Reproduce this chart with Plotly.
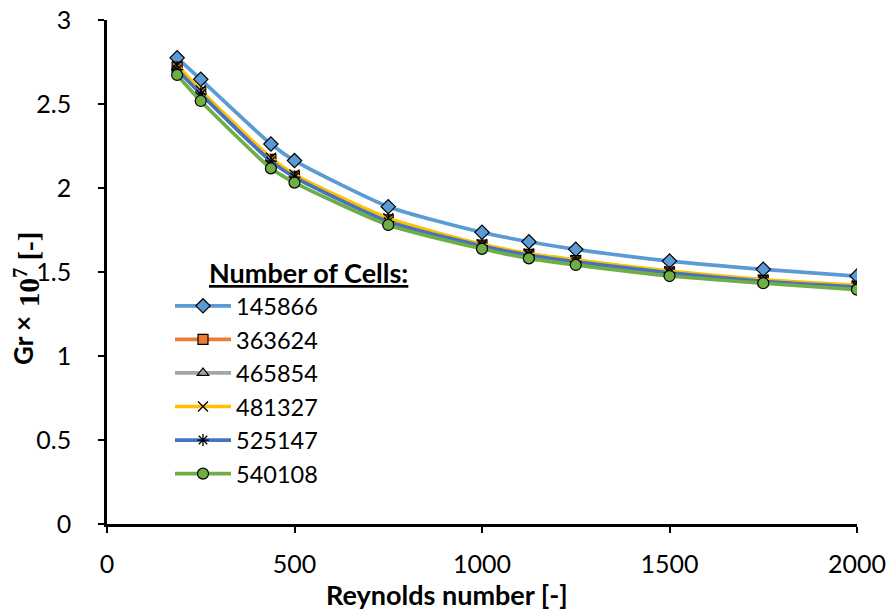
import plotly.graph_objects as go

reynolds = [187, 250, 437, 500, 750, 1000, 1125, 1250, 1500, 1750, 2000]

series_names = ["145866", "363624", "465854", "481327", "525147", "540108"]
gr_145866 = [2.775, 2.647, 2.262, 2.163, 1.889, 1.736, 1.680, 1.635, 1.565, 1.516, 1.476]
gr_363624 = [2.720, 2.570, 2.170, 2.070, 1.810, 1.660, 1.605, 1.568, 1.500, 1.450, 1.415]
gr_465854 = [2.718, 2.565, 2.168, 2.068, 1.808, 1.658, 1.603, 1.566, 1.498, 1.448, 1.414]
gr_481327 = [2.730, 2.580, 2.180, 2.080, 1.820, 1.665, 1.610, 1.572, 1.505, 1.455, 1.420]
gr_525147 = [2.705, 2.560, 2.160, 2.065, 1.800, 1.655, 1.600, 1.560, 1.495, 1.445, 1.410]
gr_540108 = [2.673, 2.518, 2.117, 2.032, 1.780, 1.638, 1.581, 1.542, 1.476, 1.433, 1.395]

series_values = [gr_145866, gr_363624, gr_465854, gr_481327, gr_525147, gr_540108]
colors = ["#5B9BD5", "#ED7D31", "#A5A5A5", "#FFC000", "#4472C4", "#70AD47"]
symbols = ["diamond", "square", "triangle-up", "x-thin", "asterisk", "circle"]
msizes = [11, 10, 10, 10, 10, 11]

x_ticks = [0, 500, 1000, 1500, 2000]
y_ticks = [0, 0.5, 1, 1.5, 2, 2.5, 3]
y_tick_labels = ["0", "0.5", "1", "1.5", "2", "2.5", "3"]

FONT = "Lato"
SERIF = "Liberation Serif, Times New Roman, DejaVu Serif, serif"

fig = go.Figure()
for i, (name, vals) in enumerate(zip(series_names, series_values)):
    sym = symbols[i]
    if sym in ("x-thin", "asterisk"):
        marker = dict(symbol=sym, size=msizes[i], color="black",
                      line=dict(color="black", width=1.3))
    else:
        marker = dict(symbol=sym, size=msizes[i], color=colors[i],
                      line=dict(color="black", width=1.2))
    fig.add_trace(go.Scatter(
        x=reynolds, y=vals, name=name, mode="lines+markers",
        line=dict(color=colors[i], width=3.7, shape="spline", smoothing=0.6),
        marker=marker, legendgroup=f"g{i}",
    ))

fig.update_layout(
    width=888, height=612,
    margin=dict(l=107, r=31, t=20, b=88),
    paper_bgcolor="white", plot_bgcolor="white",
    font=dict(family=FONT, size=20, color="black"),
    showlegend=True,
    legend=dict(
        x=0.084, y=0.476, xanchor="left", yanchor="top",
        font=dict(family=FONT, size=23.5, color="black"),
        bgcolor="rgba(255,255,255,0)",
        tracegroupgap=0, itemwidth=56,
        traceorder="grouped",
    ),
    annotations=[
        dict(text="<b><u>Number of Cells:</u></b>", xref="paper", yref="paper",
             x=0.133, y=0.50, xanchor="left", yanchor="middle", showarrow=False,
             font=dict(family=FONT, size=27, color="black")),
        dict(text="<b>Reynolds number [-]</b>", xref="paper", yref="paper",
             x=0.453, y=-0.14, xanchor="center", yanchor="middle", showarrow=False,
             font=dict(family=FONT, size=27, color="black")),
        dict(text="<b>Gr ×</b>",
             xref="paper", yref="paper", textangle=-90,
             x=-0.112, y=0.363, xanchor="center", yanchor="middle", showarrow=False,
             font=dict(family=FONT, size=26, color="black")),
        dict(text="<b>10<sup>7</sup> [-]</b>",
             xref="paper", yref="paper", textangle=-90,
             x=-0.106, y=0.505, xanchor="center", yanchor="middle", showarrow=False,
             font=dict(family=SERIF, size=29, color="black")),
    ],
)

fig.update_xaxes(
    range=[0, 2000], tickvals=x_ticks, showgrid=False, zeroline=False,
    showline=True, linecolor="black", linewidth=2.5, automargin=False,
    ticks="outside", ticklen=6, tickwidth=2, tickcolor="black",
    tickfont=dict(family=FONT, size=25), ticklabelstandoff=10,
)
fig.update_yaxes(
    range=[0, 3], tickvals=y_ticks, ticktext=y_tick_labels, showgrid=False, zeroline=False,
    showline=True, linecolor="black", linewidth=2.5, automargin=False,
    ticks="outside", ticklen=6, tickwidth=2, tickcolor="black",
    tickfont=dict(family=FONT, size=25), ticklabelstandoff=22,
)

fig.write_html("out.html")
